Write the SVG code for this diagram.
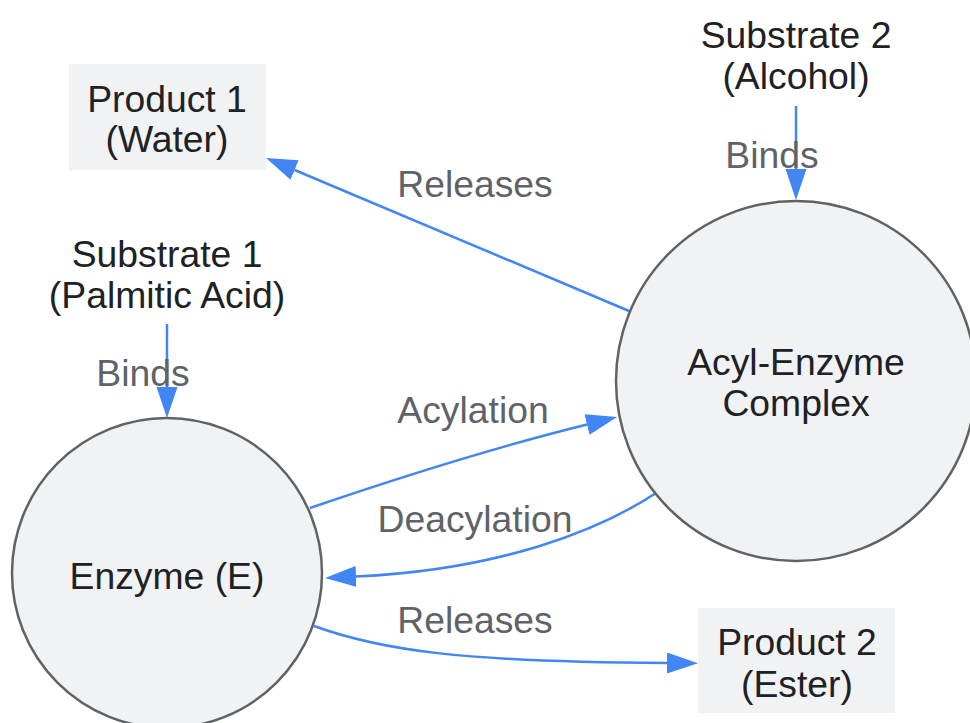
<svg xmlns="http://www.w3.org/2000/svg" width="970" height="723" viewBox="0 0 970 723">
<defs>
<marker id="ah" markerUnits="userSpaceOnUse" markerWidth="32" markerHeight="22" refX="0" refY="10.5" orient="auto">
<path d="M0,0 L31,10.5 L0,21 z" fill="#4285f4"/>
</marker>
<style>
.node{fill:#f1f2f4;stroke:#5f6368;stroke-width:2.5}
.box{fill:#f1f2f4;stroke:none}
.t{font-family:"Liberation Sans",Arial,sans-serif;font-size:37.3px;fill:#202124;text-anchor:middle}
.lbl{font-family:"Liberation Sans",Arial,sans-serif;font-size:37.3px;fill:#5f6368;text-anchor:middle}
.e{fill:none;stroke:#4285f4;stroke-width:2.5;marker-end:url(#ah)}
</style>
</defs>
<rect width="970" height="723" fill="#ffffff"/>
<g id="edges">
<path class="e" d="M796,106 L796,169"/>
<path class="e" d="M167,324 L167,387"/>
<path class="e" d="M629,311 L294.6,170"/>
<path class="e" d="M310,508 Q468,454 587,424.5"/>
<path class="e" d="M656,493 C600,530 500,570 356,576.5"/>
<path class="e" d="M314,626 C380,650 460,662 667,663"/>
</g>
<g id="product1">
<rect class="box" x="69" y="64" width="197" height="106"/>
<text class="t" x="167" y="112">Product 1</text>
<text class="t" x="167" y="152">(Water)</text>
</g>
<g id="substrate2">
<text class="t" x="796" y="48">Substrate 2</text>
<text class="t" x="796" y="89">(Alcohol)</text>
</g>
<g id="substrate1">
<text class="t" x="167" y="267">Substrate 1</text>
<text class="t" x="167" y="308">(Palmitic Acid)</text>
</g>
<g id="acyl">
<circle class="node" cx="796" cy="381" r="180"/>
<text class="t" x="796" y="375">Acyl-Enzyme</text>
<text class="t" x="796" y="416">Complex</text>
</g>
<g id="enzyme">
<circle class="node" cx="167" cy="573" r="155"/>
<text class="t" x="167" y="589">Enzyme (E)</text>
</g>
<g id="product2">
<rect class="box" x="698" y="608" width="197" height="105"/>
<text class="t" x="797" y="655">Product 2</text>
<text class="t" x="797" y="697">(Ester)</text>
</g>
<g id="labels">
<text class="lbl" x="475" y="197">Releases</text>
<text class="lbl" x="772" y="168">Binds</text>
<text class="lbl" x="143" y="386">Binds</text>
<text class="lbl" x="473" y="423">Acylation</text>
<text class="lbl" x="475" y="532">Deacylation</text>
<text class="lbl" x="475" y="633">Releases</text>
</g>
</svg>
